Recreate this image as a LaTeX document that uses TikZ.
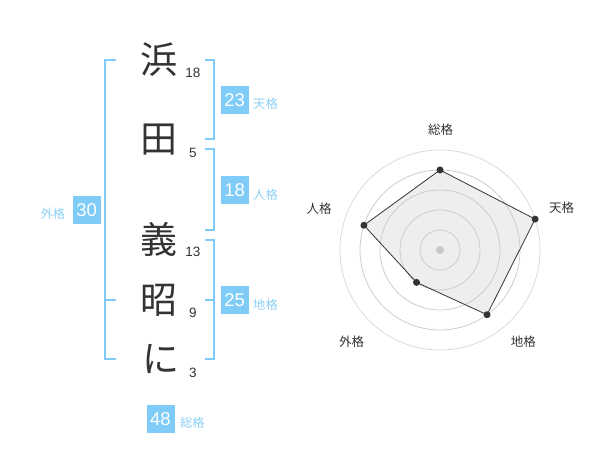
\documentclass[tikz,border=0pt]{standalone}
\usepackage{fontspec}
\setmainfont{Liberation Sans}
\newfontfamily\jp{Noto Sans CJK JP}
\usetikzlibrary{calc}
\definecolor{sky}{HTML}{80CCF8}
\definecolor{skytext}{HTML}{8CD0F6}
\definecolor{ink}{HTML}{333333}
\definecolor{ring}{HTML}{CCCCCC}
\definecolor{areafill}{HTML}{EEEEEE}
\begin{document}
\begin{tikzpicture}[x=1pt,y=-1pt,
  kanji/.style={font=\jp\fontsize{37}{37}\selectfont, text=ink, inner sep=0pt},
  strokes/.style={font=\fontsize{13.5}{14}\selectfont, text=ink, inner sep=0pt},
  valbox/.style={fill=sky, text=white, minimum size=28pt, inner sep=0pt, font=\fontsize{18.5}{19}\selectfont},
  kaku/.style={font=\jp\fontsize{12.3}{13}\selectfont, text=skytext, inner sep=0pt},
  brk/.style={draw=sky, line width=2pt},
  ringline/.style={draw=ring, line width=0.8pt},
  axislabel/.style={font=\jp\fontsize{12.5}{13}\selectfont, text=ink, inner sep=0pt},
  dot/.style={circle, fill=ink, minimum size=7pt, inner sep=0pt}]
\useasboundingbox (0,0) rectangle (600,470);

% name characters
\node[kanji] (k1) at (159,60) {浜};
\node[kanji] (k2) at (159,140) {田};
\node[kanji] (k3) at (159,239) {義};
\node[kanji] (k4) at (159,300) {昭};
\node[kanji] (k5) at (161,359) {に};

% stroke counts
\node[strokes] (s1) at (193,72.7) {18};
\node[strokes] (s2) at (193,152.7) {5};
\node[strokes] (s3) at (193,252.3) {13};
\node[strokes] (s4) at (193,312.7) {9};
\node[strokes] (s5) at (193,373.3) {3};

% brackets
\draw[brk] (116,60) -- (105,60) -- (105,359.5) -- (116,359.5);
\draw[brk] (105,300) -- (116,300);
\draw[brk] (205,60) -- (214.3,60) -- (214.3,139.5) -- (205,139.5);
\draw[brk] (205,149.5) -- (214.3,149.5) -- (214.3,230) -- (205,230);
\draw[brk] (205,240) -- (214.3,240) -- (214.3,359.5) -- (205,359.5);
\draw[brk] (205,300) -- (214.3,300);

% values
\node[valbox] (ten) at (234.7,99.7) {23};
\node[kaku, anchor=west] (tenl) at (253,104.3) {天格};
\node[valbox] (jin) at (234.7,190.3) {18};
\node[kaku, anchor=west] (jinl) at (253,194.8) {人格};
\node[valbox] (chi) at (234.7,300.3) {25};
\node[kaku, anchor=west] (chil) at (253,304.8) {地格};
\node[valbox] (gai) at (86.7,210) {30};
\node[kaku, anchor=east] (gail) at (65.3,214.3) {外格};
\node[valbox] (sou) at (160.5,419) {48};
\node[kaku, anchor=west] (soul) at (179.8,423) {総格};

% radar chart
\coordinate (c) at (440,250);
\coordinate (pS) at ($(c)+(90:80pt)$);
\coordinate (pT) at ($(c)+(18:100pt)$);
\coordinate (pC) at ($(c)+(-54:80pt)$);
\coordinate (pG) at ($(c)+(-126:40pt)$);
\coordinate (pJ) at ($(c)+(162:80pt)$);
\fill[areafill] (pS) -- (pT) -- (pC) -- (pG) -- (pJ) -- cycle;
\foreach \r in {20,40,60,80} \draw[ringline] (c) circle[radius=\r pt];
\draw[draw=ring!70, line width=0.8pt] (c) circle[radius=100pt];
\fill[ring!90!black!20!ring] (c) circle[radius=4pt];
\draw[ink, line width=0.8pt] (pS) -- (pT) -- (pC) -- (pG) -- (pJ) -- cycle;
\foreach \p in {pS,pT,pC,pG,pJ} \node[dot] at (\p) {};

\node[axislabel] (lS) at (440.7,130) {総格};
\node[axislabel] (lT) at (561.7,208) {天格};
\node[axislabel] (lJ) at (319,209) {人格};
\node[axislabel] (lG) at (351.7,341.7) {外格};
\node[axislabel] (lC) at (523.3,341.7) {地格};
\end{tikzpicture}
\end{document}
